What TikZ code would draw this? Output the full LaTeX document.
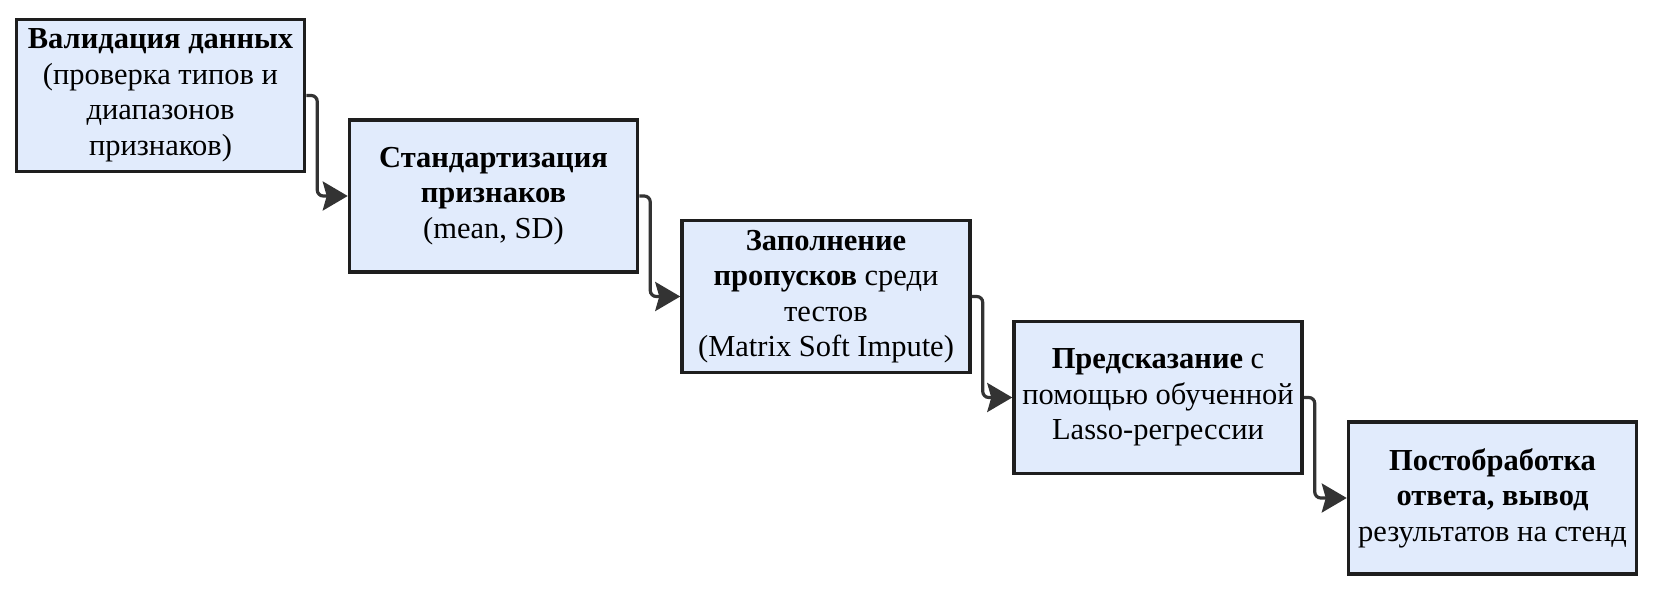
\documentclass[tikz,border=0pt]{standalone}
\usepackage{fontspec}
\setmainfont{Liberation Serif}
\usetikzlibrary{arrows.meta}
\definecolor{boxfill}{HTML}{E1EBFC}
\definecolor{boxline}{HTML}{1E1E1E}
\definecolor{arrline}{HTML}{333333}
\tikzset{
  stepbox/.style={draw=boxline, fill=boxfill, line width=3.5pt, minimum width=288pt, minimum height=152pt, align=center, inner sep=0pt, font=\fontsize{30.5pt}{35.5pt}\selectfont},
  flow/.style={draw=arrline, line width=3.2pt, rounded corners=6pt, -{Stealth[length=25pt,width=29pt,inset=4pt]}}
}
\begin{document}
\begin{tikzpicture}[x=1pt,y=-1pt]
\useasboundingbox (0,0) rectangle (1653,604);
\node[stepbox] (b1) at (160.5,95.5) {\textbf{Валидация данных}\\(проверка типов и\\диапазонов\\признаков)};
\node[stepbox] (b2) at (493.5,196) {\textbf{Стандартизация}\\\textbf{признаков}\\(mean, SD)};
\node[stepbox] (b3) at (826,296.5) {\textbf{Заполнение}\\\textbf{пропусков} среди\\тестов\\(Matrix Soft Impute)};
\node[stepbox] (b4) at (1158,397.5) {\textbf{Предсказание} с\\помощью обученной\\Lasso-регрессии};
\node[stepbox] (b5) at (1492.5,498) {\textbf{Постобработка}\\\textbf{ответа, вывод}\\результатов на стенд};
\draw[flow] (b1.east) -- ++(11,0) |- (b2.west);
\draw[flow] (b2.east) -- ++(11,0) |- (b3.west);
\draw[flow] (b3.east) -- ++(11,0) |- (b4.west);
\draw[flow] (b4.east) -- ++(11,0) |- (b5.west);
\end{tikzpicture}
\end{document}
